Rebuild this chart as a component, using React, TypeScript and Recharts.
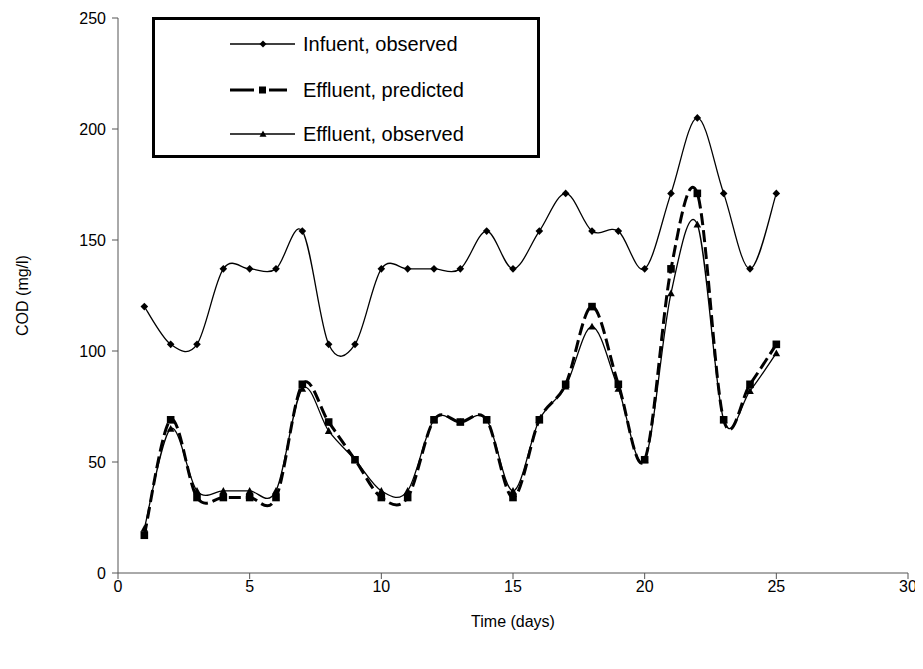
import React from 'react';
import { LineChart, Line, XAxis, YAxis, Legend } from 'recharts';

const days = [1, 2, 3, 4, 5, 6, 7, 8, 9, 10, 11, 12, 13, 14, 15, 16, 17, 18, 19, 20, 21, 22, 23, 24, 25];
const influentObserved = [120, 103, 103, 137, 137, 137, 154, 103, 103, 137, 137, 137, 137, 154, 137, 154, 171, 154, 154, 137, 171, 205, 171, 137, 171];
const effluentPredicted = [17, 69, 34, 34, 34, 34, 85, 68, 51, 34, 34, 69, 68, 69, 34, 69, 85, 120, 85, 51, 137, 171, 69, 85, 103];
const effluentObserved = [20, 65, 37, 37, 37, 37, 83, 64, 51, 37, 37, 69, 68, 69, 37, 69, 84, 111, 83, 51, 126, 157, 69, 82, 99];

const xTicks = [0, 5, 10, 15, 20, 25, 30];
const yTicks = [0, 50, 100, 150, 200, 250];

const seriesNames = ['Infuent, observed', 'Effluent, predicted', 'Effluent, observed'];

const data = days.map((d, i) => ({
  day: d,
  inf: influentObserved[i],
  pred: effluentPredicted[i],
  obs: effluentObserved[i],
}));

const FONT = '"Liberation Sans", Arial, sans-serif';
const AXIS = '#555';

// Excel-like smoothed line (Catmull-Rom, uniform)
function smoothCurve(context: any) {
  let pts: number[][] = [];
  return {
    areaStart() {},
    areaEnd() {},
    lineStart() {
      pts = [];
    },
    lineEnd() {
      const n = pts.length;
      if (n === 0) return;
      context.moveTo(pts[0][0], pts[0][1]);
      if (n === 1) return;
      for (let i = 0; i < n - 1; i++) {
        const p0 = pts[Math.max(i - 1, 0)];
        const p1 = pts[i];
        const p2 = pts[i + 1];
        const p3 = pts[Math.min(i + 2, n - 1)];
        context.bezierCurveTo(
          p1[0] + (p2[0] - p0[0]) / 6,
          p1[1] + (p2[1] - p0[1]) / 6,
          p2[0] - (p3[0] - p1[0]) / 6,
          p2[1] - (p3[1] - p1[1]) / 6,
          p2[0],
          p2[1]
        );
      }
    },
    point(x: number, y: number) {
      pts.push([+x, +y]);
    },
  };
}

const Diamond = (props: any) => {
  const { cx, cy, index } = props;
  if (cx == null || cy == null) return <g key={`d${index}`} />;
  const r = 3.8;
  return (
    <path
      key={`d${index}`}
      d={`M${cx},${cy - r}L${cx + r},${cy}L${cx},${cy + r}L${cx - r},${cy}Z`}
      fill="#000"
    />
  );
};

const Square = (props: any) => {
  const { cx, cy, index } = props;
  if (cx == null || cy == null) return <g key={`s${index}`} />;
  const r = 3.8;
  return <rect key={`s${index}`} x={cx - r} y={cy - r} width={2 * r} height={2 * r} fill="#000" />;
};

const Triangle = (props: any) => {
  const { cx, cy, index } = props;
  if (cx == null || cy == null) return <g key={`t${index}`} />;
  const r = 3.8;
  return (
    <path
      key={`t${index}`}
      d={`M${cx},${cy - r}L${cx + r},${cy + r * 0.8}L${cx - r},${cy + r * 0.8}Z`}
      fill="#000"
    />
  );
};

const LegendBox = () => {
  const rows = [
    { name: seriesNames[0], kind: 'diamond' },
    { name: seriesNames[1], kind: 'square' },
    { name: seriesNames[2], kind: 'triangle' },
  ];
  const rowTops = [27, 73, 117];
  return (
    <div
      style={{
        position: 'relative',
        width: 388,
        height: 141,
        border: '3px solid #000',
        boxSizing: 'border-box',
        background: '#fff',
        fontFamily: FONT,
        fontSize: 20,
        color: '#000',
      }}
    >
      {rows.map((r, i) => (
        <div key={r.name} style={{ position: 'absolute', left: 0, top: rowTops[i] - 15, height: 24, width: 380 }}>
          <svg width={70} height={24} style={{ position: 'absolute', left: 74, top: 0 }}>
            {r.kind === 'square' ? (
              <g>
                <line x1={1} y1={12} x2={25} y2={12} stroke="#000" strokeWidth={3} />
                <line x1={40} y1={12} x2={58} y2={12} stroke="#000" strokeWidth={3} />
                <rect x={30} y={8.5} width={7} height={7} fill="#000" />
              </g>
            ) : (
              <g>
                <line x1={1} y1={12} x2={66} y2={12} stroke="#000" strokeWidth={1.3} />
                {r.kind === 'diamond' ? (
                  <path d="M34,8.5L37.5,12L34,15.5L30.5,12Z" fill="#000" />
                ) : (
                  <path d="M34,8.5L37.5,14.8L30.5,14.8Z" fill="#000" />
                )}
              </g>
            )}
          </svg>
          <span style={{ position: 'absolute', left: 148, top: 0, lineHeight: '24px', whiteSpace: 'nowrap' }}>{r.name}</span>
        </div>
      ))}
    </div>
  );
};

const YTitle = () => (
  <text
    x={14}
    y={287.5}
    transform="rotate(-90, 14, 287.5)"
    textAnchor="middle"
    dominantBaseline="central"
    fontFamily={FONT}
    fontSize={16}
    fill="#000"
  >
    COD (mg/l)
  </text>
);

const XTitle = () => (
  <text x={505} y={619} textAnchor="middle" fontFamily={FONT} fontSize={16} fill="#000">
    Time (days)
  </text>
);

export default function App() {
  return (
    <div style={{ width: 915, height: 661, position: 'relative', background: '#fff' }}>
      <LineChart width={915} height={661} data={data} margin={{ top: 10, right: 15, left: 0, bottom: 0 }}>
        <XAxis
          dataKey="day"
          type="number"
          domain={[0, 30]}
          ticks={xTicks}
          interval={0}
          height={96}
          stroke={AXIS}
          tickSize={6}
          tickMargin={2}
          tick={{ fill: '#000', fontSize: 16, fontFamily: FONT }}
          label={<XTitle />}
        />
        <YAxis
          type="number"
          domain={[0, 250]}
          ticks={yTicks}
          interval={0}
          width={110}
          stroke={AXIS}
          tickSize={6}
          tickMargin={6}
          tick={{ fill: '#000', fontSize: 16, fontFamily: FONT }}
          label={<YTitle />}
        />
        <Legend
          layout="horizontal"
          verticalAlign="middle"
          align="center"
          content={<LegendBox />}
          wrapperStyle={{ position: 'absolute', left: 144, top: 9, width: 388, height: 141 }}
        />
        <Line
          dataKey="inf"
          name={seriesNames[0]}
          type={smoothCurve as any}
          stroke="#000"
          strokeWidth={1.3}
          dot={Diamond}
          activeDot={false}
          isAnimationActive={false}
        />
        <Line
          dataKey="pred"
          name={seriesNames[1]}
          type={smoothCurve as any}
          stroke="#000"
          strokeWidth={3}
          strokeDasharray="12 5"
          dot={Square}
          activeDot={false}
          isAnimationActive={false}
        />
        <Line
          dataKey="obs"
          name={seriesNames[2]}
          type={smoothCurve as any}
          stroke="#000"
          strokeWidth={1.3}
          dot={Triangle}
          activeDot={false}
          isAnimationActive={false}
        />
      </LineChart>
    </div>
  );
}
